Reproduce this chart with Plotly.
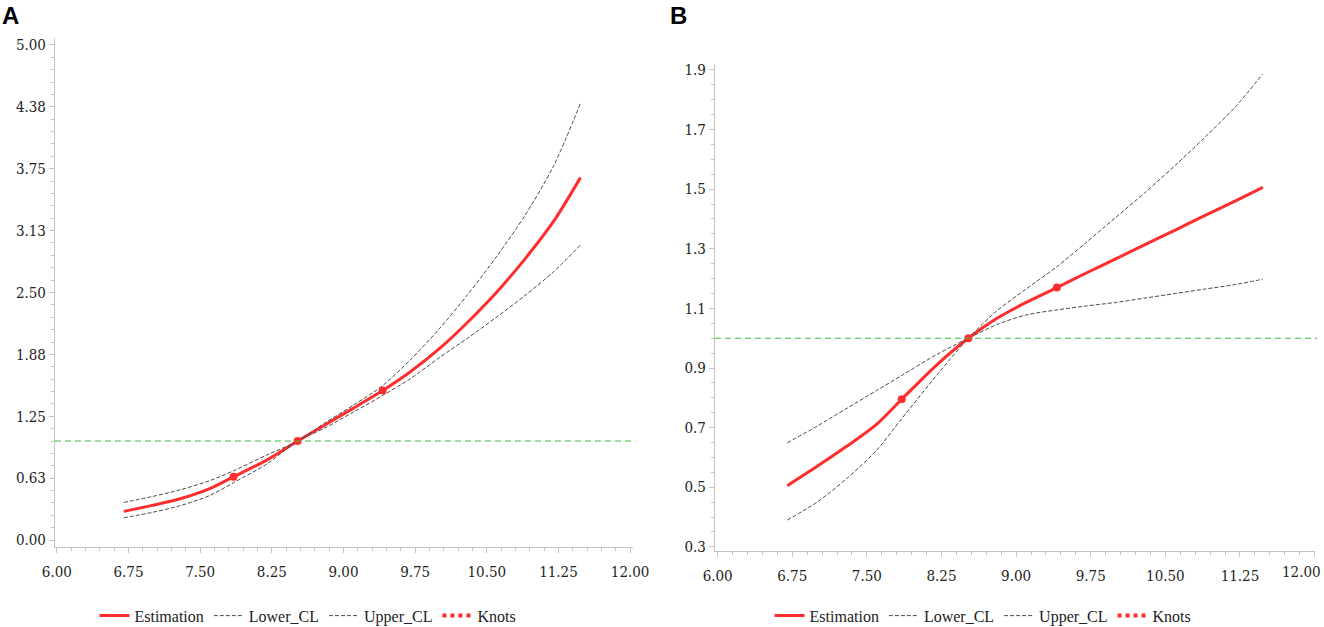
import plotly.graph_objects as go

# x grid shared by both panels
x_grid = [6.7, 7.0, 7.3, 7.6, 7.85, 8.2, 8.52, 8.8, 9.1, 9.41,
          9.7, 10.0, 10.3, 10.6, 10.9, 11.2, 11.48]

# panel A
est_a = [0.29, 0.35, 0.42, 0.52, 0.64, 0.81, 1.00, 1.16, 1.33, 1.51,
         1.70, 1.93, 2.20, 2.50, 2.84, 3.22, 3.66]
lower_a = [0.38, 0.44, 0.51, 0.60, 0.70, 0.86, 1.00, 1.18, 1.36, 1.56,
           1.82, 2.13, 2.48, 2.86, 3.28, 3.78, 4.41]
upper_a = [0.225, 0.28, 0.35, 0.45, 0.58, 0.77, 1.00, 1.13, 1.29, 1.46,
           1.63, 1.84, 2.04, 2.25, 2.47, 2.71, 2.98]
knots_x_a = [7.85, 8.52, 9.41]
knots_y_a = [0.64, 1.00, 1.51]

# panel B
est_b = [0.505, 0.57, 0.638, 0.712, 0.795, 0.91, 1.00, 1.065, 1.12, 1.17,
         1.218, 1.266, 1.315, 1.363, 1.412, 1.46, 1.506]
lower_b = [0.649, 0.705, 0.765, 0.825, 0.875, 0.945, 1.00, 1.045, 1.078, 1.095,
           1.108, 1.12, 1.135, 1.15, 1.165, 1.18, 1.198]
upper_b = [0.39, 0.45, 0.53, 0.625, 0.73, 0.875, 1.00, 1.09, 1.165, 1.24,
           1.32, 1.405, 1.49, 1.58, 1.675, 1.775, 1.887]
knots_x_b = [7.85, 8.52, 9.41]
knots_y_b = [0.795, 1.00, 1.17]

x_ticks = [6.0, 6.75, 7.5, 8.25, 9.0, 9.75, 10.5, 11.25, 12.0]
x_labels = ["6.00", "6.75", "7.50", "8.25", "9.00", "9.75", "10.50", "11.25", "12.00"]
y_ticks_a = [0, 0.625, 1.25, 1.875, 2.5, 3.125, 3.75, 4.375, 5.0]
y_labels_a = ["0.00", "0.63", "1.25", "1.88", "2.50", "3.13", "3.75", "4.38", "5.00"]
y_ticks_b = [0.3, 0.5, 0.7, 0.9, 1.1, 1.3, 1.5, 1.7, 1.9]
y_labels_b = ["0.3", "0.5", "0.7", "0.9", "1.1", "1.3", "1.5", "1.7", "1.9"]

RED = "rgb(255,45,45)"
GREY = "#4a4a4a"
AXIS = "#c4c4c4"
FONT = "DejaVu Serif Condensed, DejaVu Serif"
LEG_FONT = "Liberation Serif, DejaVu Serif Condensed"

fig = go.Figure()


def add_panel(xa, ya, leg, est, lower, upper, kx, ky):
    fig.add_trace(go.Scatter(x=x_grid, y=est, name="Estimation", mode="lines",
                             line=dict(color=RED, width=3, shape="spline", smoothing=0.8),
                             xaxis=xa, yaxis=ya, legend=leg))
    fig.add_trace(go.Scatter(x=x_grid, y=lower, name="Lower_CL", mode="lines",
                             line=dict(color=GREY, width=1, dash="4px,2px", shape="spline", smoothing=0.8),
                             xaxis=xa, yaxis=ya, legend=leg))
    fig.add_trace(go.Scatter(x=x_grid, y=upper, name="Upper_CL", mode="lines",
                             line=dict(color=GREY, width=1, dash="4px,2px", shape="spline", smoothing=0.8),
                             xaxis=xa, yaxis=ya, legend=leg))
    fig.add_trace(go.Scatter(x=kx, y=ky, mode="markers", showlegend=False,
                             marker=dict(color=RED, size=8),
                             xaxis=xa, yaxis=ya))
    # legend entry only, drawn as dots like the original
    fig.add_trace(go.Scatter(x=[None], y=[None], name="Knots", mode="lines",
                             line=dict(color=RED, width=4, dash="dot"),
                             xaxis=xa, yaxis=ya, legend=leg))


add_panel("x", "y", "legend", est_a, lower_a, upper_a, knots_x_a, knots_y_a)
add_panel("x2", "y2", "legend2", est_b, lower_b, upper_b, knots_x_b, knots_y_b)

# reference line at 1
for xr, yr in [("x domain", "y"), ("x2 domain", "y2")]:
    fig.add_shape(type="line", xref=xr, yref=yr, x0=0, x1=1.004, y0=1, y1=1,
                  line=dict(color="rgb(60,185,60)", width=1, dash="6px,4px"))

axis_common = dict(showgrid=False, zeroline=False, showline=True, automargin=False,
                   linecolor=AXIS, linewidth=1,
                   ticks="outside", ticklen=5, tickcolor=AXIS,
                   tickfont=dict(family=FONT, size=15, color="#222"))
minor_common = dict(ticks="outside", ticklen=3, tickcolor=AXIS)

# last x label of panel B sits left of its tick, as in the original
x_labels_b = x_labels[:-1] + [""]

fig.update_layout(
    width=1324, height=627,
    margin=dict(l=0, r=0, t=0, b=0, autoexpand=False),
    plot_bgcolor="white", paper_bgcolor="white",
    xaxis=dict(domain=[0.0415, 0.4781], range=[5.98, 12.03], anchor="y",
               tickvals=x_ticks, ticktext=x_labels, ticklabelstandoff=6,
               minor=dict(dtick=0.15, tick0=6, **minor_common),
               **axis_common),
    yaxis=dict(domain=[0.1276, 0.9394], range=[-0.07, 5.07], anchor="x",
               tickvals=y_ticks_a, ticktext=y_labels_a,
               minor=dict(dtick=0.125, tick0=0, **minor_common),
               **axis_common),
    xaxis2=dict(domain=[0.5400, 0.9932], range=[5.973, 12.004], anchor="y2",
                tickvals=x_ticks, ticktext=x_labels_b, ticklabelstandoff=6,
                minor=dict(dtick=0.15, tick0=6, **minor_common),
                **axis_common),
    yaxis2=dict(domain=[0.1212, 0.8979], range=[0.286, 1.92], anchor="x2",
                tickvals=y_ticks_b, ticktext=y_labels_b,
                minor=dict(dtick=0.05, tick0=0.3, **minor_common),
                **axis_common),
    legend=dict(orientation="h", x=0.2326, xanchor="center", y=0.018, yanchor="middle",
                font=dict(family=LEG_FONT, size=16, color="#222"), bgcolor="rgba(0,0,0,0)"),
    legend2=dict(orientation="h", x=0.7425, xanchor="center", y=0.018, yanchor="middle",
                 font=dict(family=LEG_FONT, size=16, color="#222"), bgcolor="rgba(0,0,0,0)"),
    showlegend=True,
    annotations=[
        dict(text="<b>A</b>", xref="paper", yref="paper", x=0.0, y=1.0,
             xanchor="left", yanchor="top", showarrow=False,
             font=dict(family="Liberation Sans", size=24, color="black")),
        dict(text="<b>B</b>", xref="paper", yref="paper", x=0.5046, y=1.0,
             xanchor="left", yanchor="top", showarrow=False,
             font=dict(family="Liberation Sans", size=24, color="black")),
        dict(text=x_labels[-1], xref="x2", yref="paper", x=12.0, y=0.1212,
             xanchor="right", yanchor="top", xshift=8, yshift=-10, showarrow=False,
             font=dict(family=FONT, size=15, color="#222")),
    ],
)

# the page body has a default 8px margin; drop it so the figure fills the window
fig.write_html("out.html", config={"displayModeBar": False},
               post_script="document.body.style.margin='0';")
